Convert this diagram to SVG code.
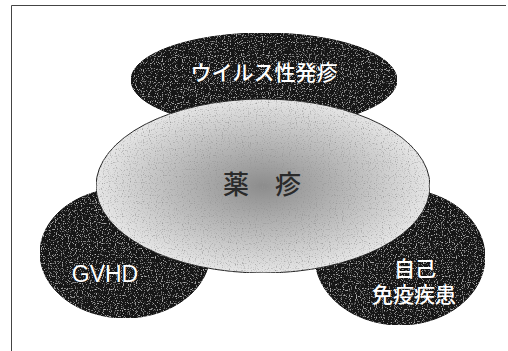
<svg xmlns="http://www.w3.org/2000/svg" width="508" height="351" viewBox="0 0 508 351">
<style>
.dark{fill:#181818;stroke:#111;stroke-width:1}
.wt{fill:#ffffff;font-family:"Liberation Sans","Noto Sans CJK JP",sans-serif}
.ct{fill:#2a2a2a;font-family:"Noto Sans CJK JP",sans-serif}
</style>
<defs>
<radialGradient id="cg" cx="0.5" cy="0.5" r="0.5">
<stop offset="0" stop-color="#8c8c8c"/>
<stop offset="0.55" stop-color="#bcbcbc"/>
<stop offset="1" stop-color="#e6e6e6"/>
</radialGradient>
<filter id="grainD" x="0" y="0" width="1" height="1">
<feTurbulence type="fractalNoise" baseFrequency="0.85" numOctaves="1" seed="4" result="n"/>
<feColorMatrix in="n" type="matrix" values="0 0 0 0 0.6 0 0 0 0 0.6 0 0 0 0 0.6 0 0 0 -4 1.75" result="w"/>
<feComposite in="w" in2="SourceGraphic" operator="in" result="wc"/>
<feMerge><feMergeNode in="SourceGraphic"/><feMergeNode in="wc"/></feMerge>
</filter>
<filter id="grainL" x="0" y="0" width="1" height="1">
<feTurbulence type="fractalNoise" baseFrequency="0.85" numOctaves="1" seed="9" result="n"/>
<feColorMatrix in="n" type="matrix" values="0 0 0 0 0.3 0 0 0 0 0.3 0 0 0 0 0.3 0 0 0 -3.5 1.6" result="w"/>
<feComposite in="w" in2="SourceGraphic" operator="in" result="wc"/>
<feMerge><feMergeNode in="SourceGraphic"/><feMergeNode in="wc"/></feMerge>
</filter>
</defs>
<rect width="508" height="351" fill="#ffffff"/>
<path d="M11.5,351 V5.5 H506" fill="none" stroke="#444" stroke-width="1"/>
<g id="connectors"></g>
<g id="viral">
<ellipse class="dark" cx="264" cy="80" rx="133" ry="47" filter="url(#grainD)"/>
<text class="wt" x="264" y="80" font-size="21" font-weight="500" text-anchor="middle">ウイルス性発疹</text>
</g>
<g id="gvhd">
<ellipse class="dark" cx="125" cy="253" rx="85" ry="65" filter="url(#grainD)"/>
<text class="wt" x="105" y="282" font-size="23" text-anchor="middle">GVHD</text>
</g>
<g id="autoimmune">
<ellipse class="dark" cx="400" cy="257" rx="85" ry="68" filter="url(#grainD)"/>
<text class="wt" x="415" y="276" font-size="21" font-weight="500" text-anchor="middle">自己</text>
<text class="wt" x="414" y="302" font-size="21" font-weight="500" text-anchor="middle">免疫疾患</text>
</g>
<g id="drug">
<ellipse cx="263" cy="186" rx="167" ry="87" fill="url(#cg)" stroke="#222" stroke-width="1" filter="url(#grainL)"/>
<text class="ct" x="262" y="194" font-size="26" font-weight="500" text-anchor="middle">薬　疹</text>
</g>
</svg>
